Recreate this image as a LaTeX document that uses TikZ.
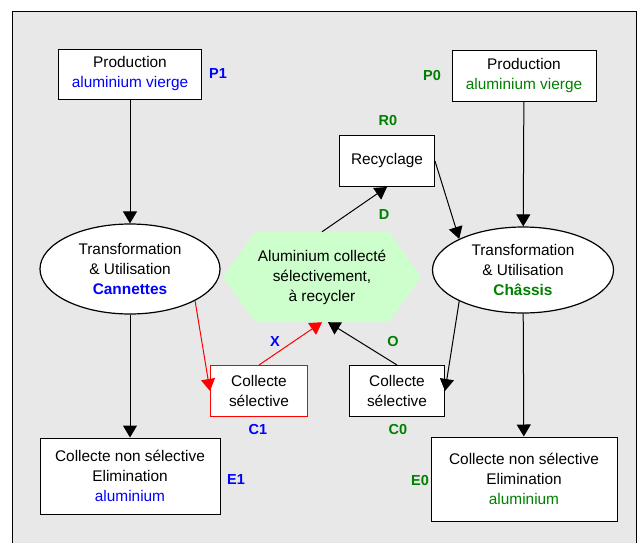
\documentclass[tikz,border=0pt]{standalone}
\usepackage{fontspec}
\setmainfont{Liberation Sans}
\usetikzlibrary{arrows.meta,shapes.geometric}
\definecolor{bggray}{RGB}{232,232,232}
\definecolor{hexgreen}{RGB}{204,255,204}
\definecolor{alugreen}{RGB}{0,128,0}
\definecolor{alublue}{RGB}{0,0,255}

\begin{document}
\begin{tikzpicture}[x=1pt,y=-1pt,
    txt/.style={font=\fontsize{15.4}{20}\selectfont, align=center},
    box/.style={txt, shape=rectangle, draw=black, fill=white, line width=1pt, inner sep=0pt},
    oval/.style={txt, shape=ellipse, draw=black, fill=white, line width=1.2pt, inner sep=0pt},
    hexa/.style={txt, shape=rectangle, inner sep=0pt, minimum width=198pt, minimum height=90pt,
        path picture={\fill[hexgreen] (path picture bounding box.west)
            -- ([xshift=32pt]path picture bounding box.north west)
            -- ([xshift=-32pt]path picture bounding box.north east)
            -- (path picture bounding box.east)
            -- ([xshift=-32pt]path picture bounding box.south east)
            -- ([xshift=32pt]path picture bounding box.south west) -- cycle;}},
    tag/.style={font=\fontsize{14.5}{16}\selectfont\bfseries},
    flow/.style={-{Triangle[length=12pt,width=14pt]}, line width=1pt}]
    \useasboundingbox (0,0) rectangle (638,542);
    \draw[fill=bggray, line width=1pt] (12,11) rectangle (636,548);

    \node[box, minimum width=143pt, minimum height=50pt] (P1) at (130,74) {Production\\\textcolor{alublue}{aluminium vierge}};
    \node[box, minimum width=144pt, minimum height=51pt] (P0) at (524,76) {Production\\\textcolor{alugreen}{aluminium vierge}};
    \node[box, minimum width=95pt, minimum height=51pt] (R) at (387,161) {Recyclage};
    \node[oval, minimum width=180pt, minimum height=90pt] (T1) at (130,269) {Transformation\\\& Utilisation\\\textcolor{alublue}{\bfseries Cannettes}};
    \node[oval, minimum width=181pt, minimum height=86pt] (T0) at (523,270) {Transformation\\\& Utilisation\\\textcolor{alugreen}{\bfseries Châssis}};
    \node[hexa] (H) at (322,277) {Aluminium collecté\\sélectivement,\\à recycler};
    \node[box, draw=red, minimum width=97pt, minimum height=51pt] (C1) at (259,391) {Collecte\\sélective};
    \node[box, minimum width=95pt, minimum height=51pt] (C0) at (397,391) {Collecte\\sélective};
    \node[box, minimum width=180pt, minimum height=76pt] (E1) at (130,476) {Collecte non sélective\\Elimination\\\textcolor{alublue}{aluminium}};
    \node[box, minimum width=186pt, minimum height=84pt] (E0) at (524,479) {Collecte non sélective\\Elimination\\\textcolor{alugreen}{aluminium}};

    \node[tag, text=alublue] (LP1) at (218,74) {P1};
    \node[tag, text=alugreen] (LP0) at (432,76) {P0};
    \node[tag, text=alugreen] (LR0) at (388,121) {R0};
    \node[tag, text=alugreen] (LD) at (384,215) {D};
    \node[tag, text=alublue] (LX) at (275,342) {X};
    \node[tag, text=alugreen] (LO) at (393,342) {O};
    \node[tag, text=alublue] (LC1) at (258,430) {C1};
    \node[tag, text=alugreen] (LC0) at (398,430) {C0};
    \node[tag, text=alublue] (LE1) at (236,480) {E1};
    \node[tag, text=alugreen] (LE0) at (420,481) {E0};

    \draw[flow] (P1) -- (T1);
    \draw[flow] (T1) -- (E1);
    \draw[flow] (P0) -- (T0);
    \draw[flow] (T0) -- (E0);
    \draw[flow] (H.north) -- (R.south);
    \draw[flow] (R.east) -- (T0.154);
    \draw[flow, red] (T1.-26) -- (C1.west);
    \draw[flow, red] (C1.north) -- (H.south);
    \draw[flow] (C0.north) -- ([xshift=6pt]H.south);
    \draw[flow] (T0.206) -- (C0.east);
\end{tikzpicture}
\end{document}
